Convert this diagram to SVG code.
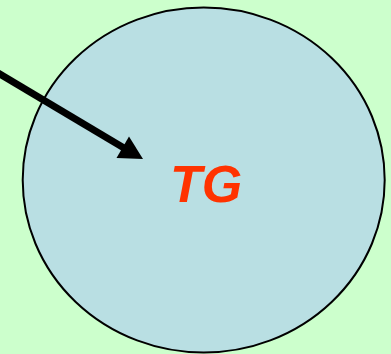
<svg xmlns="http://www.w3.org/2000/svg" width="391" height="354" viewBox="0 0 391 354">
<style>
.bg{fill:#ccffcc}
.node{fill:#b9dfe3;stroke:#000;stroke-width:2}
.lbl{font-family:"Liberation Sans",Arial,sans-serif;font-weight:bold;font-style:italic;fill:#ff3300;text-anchor:middle}
.conn{stroke:#000;stroke-width:7;fill:none}
.head{fill:#000}
</style>
<rect class="bg" x="0" y="0" width="391" height="354"/>
<g id="tg">
<ellipse class="node" cx="203.7" cy="180" rx="181" ry="172.5"/>
<text class="lbl" x="206" y="201.5" font-size="52">TG</text>
</g>
<g id="connectors">
<line class="conn" x1="-6" y1="70.6" x2="124" y2="148"/>
<polygon class="head" points="143,159 116.5,158 129,136.5"/>
</g>
</svg>
